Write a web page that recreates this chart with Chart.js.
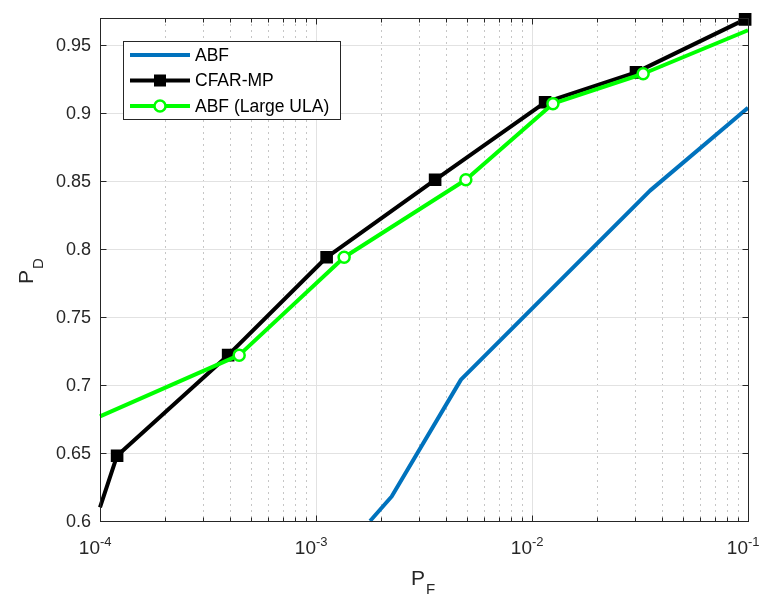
<!DOCTYPE html>
<html>
<head>
<meta charset="utf-8">
<script src="https://cdn.jsdelivr.net/npm/chart.js@4/dist/chart.umd.min.js"></script>
<style>
  html, body { margin: 0; padding: 0; background: #fff; }
  #wrap { width: 765px; height: 595px; }
</style>
</head>
<body>
<div id="wrap"><canvas id="c" width="765" height="595"></canvas></div>
<script>
// Detection probability P_D versus false-alarm probability P_F
const pfAbf = [1.78e-3, 2.24e-3, 4.69e-3, 3.52e-2, 1e-1];
const pdAbf = [0.600, 0.618, 0.704, 0.843, 0.904];

const pfCfar = [1e-4, 1.2e-4, 3.92e-4, 1.12e-3, 3.56e-3, 1.15e-2, 3.03e-2, 9.7e-2];
const pdCfar = [0.610, 0.648, 0.722, 0.794, 0.851, 0.908, 0.930, 0.969];

const pfUla = [1e-4, 4.41e-4, 1.35e-3, 4.94e-3, 1.25e-2, 3.27e-2, 1e-1];
const pdUla = [0.677, 0.722, 0.794, 0.851, 0.907, 0.929, 0.961];

const seriesNames = ['ABF', 'CFAR-MP', 'ABF (Large ULA)'];
const seriesColors = ['#0072BD', '#000000', '#00FF00'];

const yTickValues = [0.6, 0.65, 0.7, 0.75, 0.8, 0.85, 0.9, 0.95];
const yTickLabels = ['0.6', '0.65', '0.7', '0.75', '0.8', '0.85', '0.9', '0.95'];
const xDecadeExponents = [-4, -3, -2, -1];
const xTitle = ['P', 'F'];
const yTitle = ['P', 'D'];

const FONT = '"Liberation Sans", Arial, Helvetica, sans-serif';
const INK = '#262626';

const toPoints = (xs, ys) => xs.map((v, i) => ({ x: v, y: ys[i] }));
// markers only on interior samples where the series has them
const cfarRadius = pfCfar.map((v, i) => (i === 0 ? 0 : 7.5));
const ulaRadius = pfUla.map((v, i) => (i === 0 || i === pfUla.length - 1 ? 0 : 5.5));

// MATLAB-style axes: grid, inward ticks, boxed frame, labels
const frame = {
  id: 'frame',
  beforeDatasetsDraw(chart) {
    const { ctx, chartArea: a, scales: { x, y } } = chart;
    ctx.save();
    ctx.lineWidth = 1;
    // minor decade grid (dotted)
    ctx.strokeStyle = '#c6c6c6';
    ctx.setLineDash([2, 4]);
    for (let k = 0; k < xDecadeExponents.length - 1; k++) {
      const base = Math.pow(10, xDecadeExponents[k]);
      for (let m = 2; m <= 9; m++) {
        const px = Math.round(x.getPixelForValue(m * base)) + 0.5;
        ctx.beginPath(); ctx.moveTo(px, a.top); ctx.lineTo(px, a.bottom); ctx.stroke();
      }
    }
    // major grid (solid)
    ctx.setLineDash([]);
    ctx.strokeStyle = '#e2e2e2';
    xDecadeExponents.forEach(e => {
      const px = Math.round(x.getPixelForValue(Math.pow(10, e))) + 0.5;
      ctx.beginPath(); ctx.moveTo(px, a.top); ctx.lineTo(px, a.bottom); ctx.stroke();
    });
    yTickValues.forEach(v => {
      const py = Math.round(y.getPixelForValue(v)) + 0.5;
      ctx.beginPath(); ctx.moveTo(a.left, py); ctx.lineTo(a.right, py); ctx.stroke();
    });
    ctx.restore();
  },
  afterDatasetsDraw(chart) {
    const { ctx, chartArea: a, scales: { x, y } } = chart;
    ctx.save();
    ctx.strokeStyle = INK;
    ctx.lineWidth = 1;
    const L = Math.round(a.left) + 0.5, R = Math.round(a.right) + 0.5;
    const T = Math.round(a.top) + 0.5, B = Math.round(a.bottom) + 0.5;
    ctx.strokeRect(L, T, R - L, B - T);

    // inward ticks
    ctx.beginPath();
    xDecadeExponents.forEach(e => {
      const px = Math.round(x.getPixelForValue(Math.pow(10, e))) + 0.5;
      ctx.moveTo(px, B); ctx.lineTo(px, B - 6);
      ctx.moveTo(px, T); ctx.lineTo(px, T + 6);
    });
    for (let k = 0; k < xDecadeExponents.length - 1; k++) {
      const base = Math.pow(10, xDecadeExponents[k]);
      for (let m = 2; m <= 9; m++) {
        const px = Math.round(x.getPixelForValue(m * base)) + 0.5;
        ctx.moveTo(px, B); ctx.lineTo(px, B - 4);
        ctx.moveTo(px, T); ctx.lineTo(px, T + 4);
      }
    }
    yTickValues.forEach(v => {
      const py = Math.round(y.getPixelForValue(v)) + 0.5;
      ctx.moveTo(L, py); ctx.lineTo(L + 6, py);
      ctx.moveTo(R, py); ctx.lineTo(R - 6, py);
    });
    ctx.stroke();

    // y tick labels
    ctx.fillStyle = INK;
    ctx.font = '18px ' + FONT;
    ctx.textAlign = 'right';
    ctx.textBaseline = 'middle';
    yTickValues.forEach((v, i) => {
      ctx.fillText(yTickLabels[i], a.left - 9, y.getPixelForValue(v) + 1);
    });

    // x tick labels 10^e
    ctx.textBaseline = 'alphabetic';
    xDecadeExponents.forEach(e => {
      const px = x.getPixelForValue(Math.pow(10, e));
      ctx.font = '19px ' + FONT;
      ctx.textAlign = 'right';
      ctx.fillText('10', px, a.bottom + 33);
      ctx.font = '13px ' + FONT;
      ctx.textAlign = 'left';
      ctx.fillText(String(e), px, a.bottom + 25);
    });

    // axis titles
    ctx.textAlign = 'left';
    ctx.font = '21px ' + FONT;
    ctx.fillText(xTitle[0], 411, a.bottom + 64);
    const pw = ctx.measureText(xTitle[0]).width;
    ctx.font = '15px ' + FONT;
    ctx.fillText(xTitle[1], 411 + pw + 1, a.bottom + 73);

    ctx.save();
    ctx.translate(33, 284);
    ctx.rotate(-Math.PI / 2);
    ctx.font = '21px ' + FONT;
    ctx.fillText(yTitle[0], 0, 0);
    const qw = ctx.measureText(yTitle[0]).width;
    ctx.font = '15px ' + FONT;
    ctx.fillText(yTitle[1], qw + 1, 10);
    ctx.restore();
    ctx.restore();
  },
  afterDraw(chart) {
    const { ctx } = chart;
    ctx.save();
    // legend box
    ctx.fillStyle = '#fff';
    ctx.fillRect(123.5, 41.5, 217, 78);
    ctx.strokeStyle = INK;
    ctx.lineWidth = 1;
    ctx.strokeRect(123.5, 41.5, 217, 78);
    const rows = [55, 80.5, 106];
    chart.data.datasets.forEach((ds, i) => {
      const ry = rows[i];
      ctx.strokeStyle = ds.borderColor;
      ctx.lineWidth = 4;
      ctx.beginPath(); ctx.moveTo(130, ry); ctx.lineTo(190, ry); ctx.stroke();
      if (i === 1) {
        ctx.fillStyle = '#000';
        ctx.fillRect(154, ry - 6, 12, 12);
      } else if (i === 2) {
        ctx.fillStyle = '#fff';
        ctx.lineWidth = 2.5;
        ctx.beginPath(); ctx.arc(160, ry, 5.5, 0, Math.PI * 2); ctx.fill(); ctx.stroke();
      }
      ctx.fillStyle = '#000';
      ctx.font = '17.5px ' + FONT;
      ctx.textAlign = 'left';
      ctx.textBaseline = 'middle';
      ctx.fillText(ds.label, 195, ry + 1);
    });
    ctx.restore();
  }
};

new Chart(document.getElementById('c'), {
  type: 'line',
  data: {
    datasets: [
      {
        label: seriesNames[0],
        data: toPoints(pfAbf, pdAbf),
        borderColor: seriesColors[0],
        borderWidth: 4,
        pointRadius: 0,
        order: 2
      },
      {
        label: seriesNames[1],
        data: toPoints(pfCfar, pdCfar),
        borderColor: seriesColors[1],
        borderWidth: 4,
        pointStyle: 'rect',
        pointRadius: cfarRadius,
        pointBackgroundColor: '#000',
        pointBorderColor: '#000',
        pointBorderWidth: 2,
        order: 1
      },
      {
        label: seriesNames[2],
        data: toPoints(pfUla, pdUla),
        borderColor: seriesColors[2],
        borderWidth: 4,
        pointStyle: 'circle',
        pointRadius: ulaRadius,
        pointBackgroundColor: '#fff',
        pointBorderColor: seriesColors[2],
        pointBorderWidth: 2.5,
        order: 0
      }
    ]
  },
  options: {
    responsive: false,
    animation: false,
    devicePixelRatio: 1,
    clip: false,
    layout: { padding: { left: 0, right: 17, top: 18, bottom: 0 } },
    elements: { line: { tension: 0, borderJoinStyle: 'round', borderCapStyle: 'butt' } },
    plugins: { legend: { display: false }, tooltip: { enabled: false } },
    scales: {
      x: {
        type: 'logarithmic', min: 1e-4, max: 1e-1,
        ticks: { display: false }, grid: { display: false }, border: { display: false },
        afterFit(s) { s.height = 74; }
      },
      y: {
        type: 'linear', min: 0.6, max: 0.97,
        ticks: { display: false }, grid: { display: false }, border: { display: false },
        afterFit(s) { s.width = 100; }
      }
    }
  },
  plugins: [frame]
});
</script>
</body>
</html>
